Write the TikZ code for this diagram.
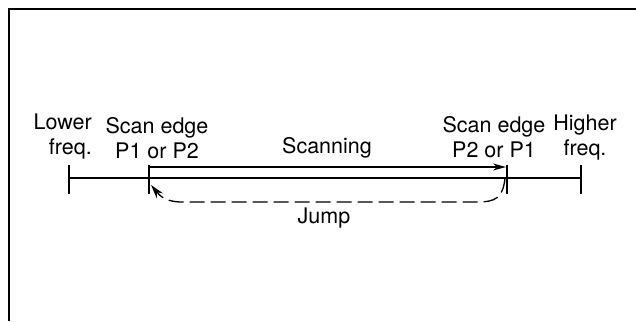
\documentclass[tikz,border=0pt]{standalone}
\usepackage{fontspec}
\setmainfont{TeX Gyre Heros}
\usetikzlibrary{arrows.meta}
\begin{document}
\begin{tikzpicture}[x=1pt,y=-1pt,
  lbl/.style={inner sep=0pt,font=\fontsize{21.5}{25}\selectfont},
  ln/.style={line width=1.3pt},
  tick/.style={line width=1.5pt},
  tip/.style={-{Stealth[length=13pt,width=7pt]}}]
\useasboundingbox (0,0) rectangle (636,321);
% frame (top and left only)
\draw[line width=1.4pt] (9,321) -- (9,9) -- (636,9);
% named points
\coordinate (lo) at (69,178);
\coordinate (sa) at (149,178);
\coordinate (sb) at (507,178);
\coordinate (hi) at (581,178);
\coordinate (sa1) at (149,167);
\coordinate (sb1) at (506,167);
% axis
\draw[ln] (lo) -- (hi);
\foreach \p in {lo,sa,sb,hi}{\draw[tick] ([yshift=-16pt]\p) -- ([yshift=13pt]\p);}
% scanning arrow
\draw[ln,tip] (sa1) -- (sb1);
% jump
\draw[ln,-{Stealth[length=14pt,width=8pt]},dash pattern=on 15pt off 6pt] ([xshift=-2pt]sb) .. controls (503,198) and (495,202) .. (478,202) -- (182,202) .. controls (166,202) and (160,196) .. ([xshift=2pt,yshift=-7pt]sa);
% labels
\node[lbl,align=right,anchor=north east] (tlo) at (92,114) {Lower\\freq.};
\node[lbl,align=center,anchor=north] (tsa) at (157,117) {Scan edge\\P1 or P2};
\node[lbl,anchor=north] (tsc) at (327,137) {Scanning};
\node[lbl,align=center,anchor=north] (tsb) at (494,116) {Scan edge\\P2 or P1};
\node[lbl,align=center,anchor=north] (thi) at (585,115) {Higher\\freq.};
\node[lbl,anchor=north] (tj) at (324,208) {Jump};
\end{tikzpicture}
\end{document}
